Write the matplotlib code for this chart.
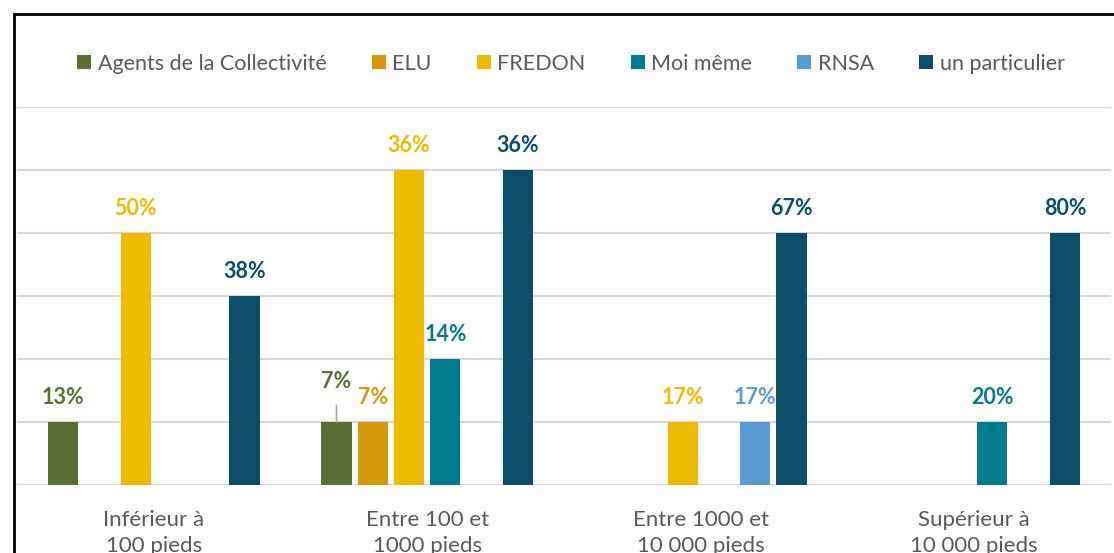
import matplotlib.pyplot as plt
from matplotlib.patches import Rectangle, Patch
import numpy as np

plt.rcParams['font.family'] = ['Lato', 'DejaVu Sans']

categories = ["Inférieur à\n100 pieds", "Entre 100 et\n1000 pieds",
              "Entre 1000 et\n10 000 pieds", "Supérieur à\n10 000 pieds"]
series = ["Agents de la Collectivité", "ELU", "FREDON", "Moi même", "RNSA", "un particulier"]
colors = ["#5A6E35", "#D6990C", "#EEBB00", "#007D8C", "#5B9BD5", "#0E4D67"]

# bar heights (counts) and the percentage labels shown above them
agents = [1, 1, 0, 0]
elu = [0, 1, 0, 0]
fredon = [4, 5, 1, 0]
moi_meme = [0, 2, 0, 1]
rnsa = [0, 0, 1, 0]
particulier = [3, 5, 4, 4]

agents_lbl = ["13%", "7%", "", ""]
elu_lbl = ["", "7%", "", ""]
fredon_lbl = ["50%", "36%", "17%", ""]
moi_meme_lbl = ["", "14%", "", "20%"]
rnsa_lbl = ["", "", "17%", ""]
particulier_lbl = ["38%", "36%", "67%", "80%"]

values = [agents, elu, fredon, moi_meme, rnsa, particulier]
labels = [agents_lbl, elu_lbl, fredon_lbl, moi_meme_lbl, rnsa_lbl, particulier_lbl]

W, H = 1114, 553
fig = plt.figure(figsize=(W / 100, H / 100), dpi=100)
ax = fig.add_axes([17 / W, (H - 485) / H, (1111 - 17) / W, (485 - 107) / H])

x = np.arange(len(categories))
slot = 0.1327
width = 0.11

for i, (name, vals, lbls, col) in enumerate(zip(series, values, labels, colors)):
    xs = x + (i - 2.5) * slot
    ax.bar(xs, vals, width, color=col, label=name, zorder=3)
    for j, (xx, v, t) in enumerate(zip(xs, vals, lbls)):
        if not t:
            continue
        if i == 0 and j == 1:
            # label moved up with a leader line
            ax.annotate(t, xy=(xx, v), xytext=(0, 29.5), textcoords='offset points',
                        ha='center', va='center', fontsize=15.5, fontweight='bold', color=col,
                        arrowprops=dict(arrowstyle='-', color='#A6A6A6', lw=1.2,
                                        shrinkA=8, shrinkB=0))
        else:
            ax.annotate(t, xy=(xx, v), xytext=(0, 17.5), textcoords='offset points',
                        ha='center', va='center', fontsize=15.5, fontweight='bold', color=col)

ax.set_xlim(-0.5, 3.5)
ax.set_ylim(0, 6)
ax.set_yticks(range(7))
ax.set_yticklabels([])
ax.grid(axis='y', color='#D9D9D9', lw=1.5, zorder=0)
ax.tick_params(axis='y', length=0)
ax.set_xticks(x)
ax.set_xticklabels(categories, fontsize=16, color='#595959', linespacing=1.35)
ax.tick_params(axis='x', length=0, pad=18)
for s in ax.spines.values():
    s.set_visible(False)

handles = [Patch(facecolor=c, edgecolor='none') for c in colors]
fig.legend(handles, series, loc='center', bbox_to_anchor=(571 / W, 1 - 63.5 / H), ncol=6,
           frameon=False, fontsize=15.5, handlelength=0.65, handleheight=0.65,
           handletextpad=0.3, columnspacing=2.1, labelcolor='#595959')

fig.patches.append(Rectangle((14 / W, -0.2), 1.2, 1.2 - 14 / H, transform=fig.transFigure,
                             fill=False, edgecolor='black', lw=2))

fig.savefig("out.png", dpi=100)
